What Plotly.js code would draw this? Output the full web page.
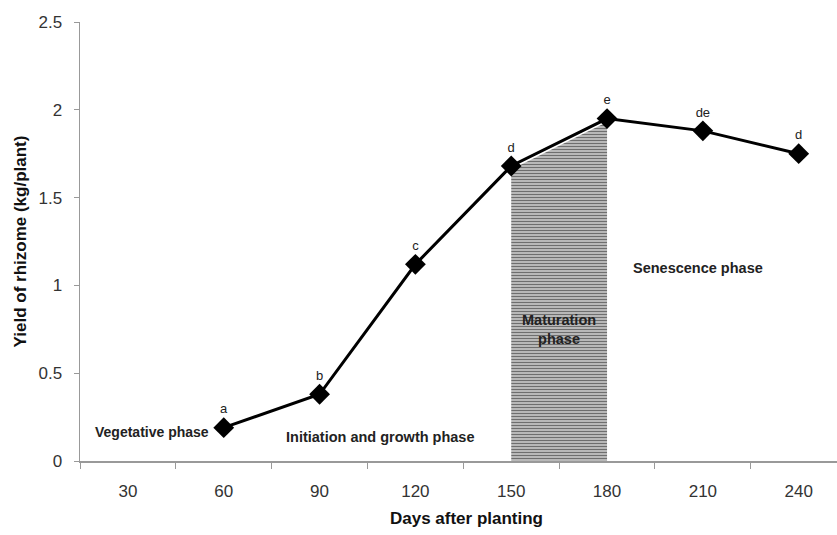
<!DOCTYPE html>
<html>
<head>
<meta charset="utf-8">
<script src="https://cdn.plot.ly/plotly-3.0.1.min.js"></script>
<style>html,body{margin:0;padding:0;background:#fff;overflow:hidden;}#chart{width:853px;height:535px;}</style>
</head>
<body>
<div id="chart"></div>
<script>
// Data
const days = [60, 90, 120, 150, 180, 210, 240];
const yieldKg = [0.19, 0.38, 1.12, 1.68, 1.95, 1.88, 1.75];
const letters = ['a', 'b', 'c', 'd', 'e', 'de', 'd'];
const categoryTicks = [30, 60, 90, 120, 150, 180, 210, 240];
const maturationDays = [150, 180];
const maturationYield = [1.66, 1.93];
const phaseLabels = ['Vegetative phase', 'Initiation and growth phase', 'Maturation<br>phase', 'Senescence phase'];
const phaseX = [37.5, 109, 165, 208.5];
const phaseY = [0.165, 0.137, 0.75, 1.1];
const phaseSize = [14, 14.5, 14.5, 14.5];

const hatch = {
  x: maturationDays,
  y: maturationYield,
  type: 'scatter',
  mode: 'none',
  fill: 'tozeroy',
  fillcolor: '#b5b5b5',
  fillpattern: {shape: '-', size: 3, solidity: 0.45, fgcolor: '#6e6e6e', bgcolor: '#c8c8c8'},
  hoverinfo: 'skip',
  showlegend: false
};

const line = {
  x: days,
  y: yieldKg,
  text: letters,
  type: 'scatter',
  mode: 'lines+markers+text',
  textposition: 'top center',
  textfont: {family: 'Liberation Sans, Arial, sans-serif', size: 13, color: '#222'},
  line: {color: '#000', width: 3},
  marker: {symbol: 'diamond', size: 16, color: '#000'},
  showlegend: false,
  cliponaxis: false
};

const annotations = phaseLabels.map((t, i) => ({
  x: phaseX[i], y: phaseY[i], xref: 'x', yref: 'y',
  text: '<b>' + t + '</b>', showarrow: false,
  font: {family: 'Liberation Sans, Arial, sans-serif', size: phaseSize[i], color: '#222'},
  align: 'center'
}));

const layout = {
  width: 853, height: 535,
  margin: {l: 80, r: 0, t: 22, b: 74},
  paper_bgcolor: '#fff', plot_bgcolor: '#fff',
  font: {family: 'Liberation Sans, Arial, sans-serif', color: '#333'},
  xaxis: {
    range: [15, 257],
    tickvals: categoryTicks,
    ticktext: categoryTicks.map(String),
    ticks: 'outside', ticklen: 14, tickcolor: 'rgba(0,0,0,0)',
    showgrid: false, zeroline: false,
    showline: true, linecolor: '#999', linewidth: 1.5,
    tickfont: {size: 17, color: '#333'},
    minor: {tick0: 15, dtick: 30, ticks: 'outside', ticklen: 6, tickcolor: '#999', tickwidth: 1, showgrid: false},
    title: {text: '<b>Days after planting</b>', font: {size: 17, color: '#111'}, standoff: 12},
    automargin: false
  },
  yaxis: {
    range: [0, 2.5],
    dtick: 0.5,
    ticks: 'outside', ticklen: 5, tickcolor: '#999', tickwidth: 1,
    ticklabelstandoff: 8,
    showgrid: false, zeroline: false,
    showline: true, linecolor: '#999', linewidth: 1.5,
    tickfont: {size: 17, color: '#333'},
    title: {text: '<b>Yield of rhizome (kg/plant)</b>', font: {size: 17, color: '#111'}, standoff: 7},
    automargin: false
  },
  annotations: annotations
};

Plotly.newPlot('chart', [hatch, line], layout, {displayModeBar: false, staticPlot: true});
</script>
</body>
</html>
